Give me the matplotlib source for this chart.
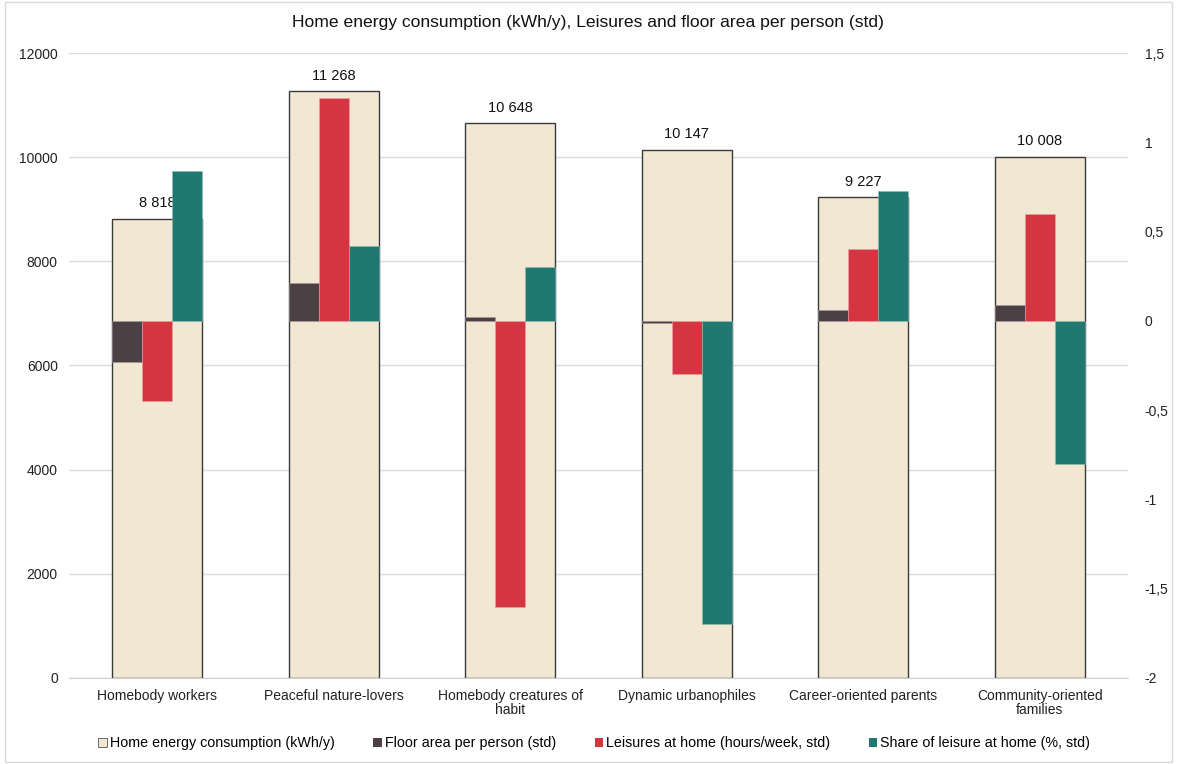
import matplotlib.pyplot as plt
from matplotlib.patches import Patch, Rectangle
from matplotlib.ticker import FuncFormatter

plt.rcParams['font.family'] = ['Liberation Sans', 'DejaVu Sans']

# Profiles and their values
categories = ["Homebody workers", "Peaceful nature-lovers", "Homebody creatures of\nhabit",
              "Dynamic urbanophiles", "Career-oriented parents", "Community-oriented\nfamilies"]
energy_kwh = [8818, 11268, 10648, 10147, 9227, 10008]
floor_area_std = [-0.23, 0.21, 0.02, -0.01, 0.06, 0.09]
leisure_hours_std = [-0.45, 1.25, -1.60, -0.30, 0.40, 0.60]
leisure_share_std = [0.84, 0.42, 0.30, -1.70, 0.73, -0.80]

c_energy = '#F2E7D2'
c_floor = '#4B4145'
c_leisure = '#D33641'
c_share = '#207870'

fig = plt.figure(figsize=(11.77, 7.64), dpi=100)
ax = fig.add_axes([0.0586, 0.1126, 0.8998, 0.818])
ax2 = ax.twinx()

x = range(len(categories))
sub_w = 0.17

# Energy consumption, left axis
ax.bar(x, energy_kwh, width=0.51, color=c_energy, edgecolor='#3a3a3a', linewidth=1.0, zorder=2)
for i, v in enumerate(energy_kwh):
    ax.text(i, v + 160, f"{v:,}".replace(",", " "), ha='center', va='bottom', fontsize=10.5, color='#111111')

# Standardized indicators, right axis
ax2.bar([i - sub_w for i in x], floor_area_std, width=sub_w, color=c_floor,
        edgecolor='#a09a98', linewidth=0.4, zorder=3)
ax2.bar(list(x), leisure_hours_std, width=sub_w, color=c_leisure,
        edgecolor='#ec9ea3', linewidth=0.4, zorder=3)
ax2.bar([i + sub_w for i in x], leisure_share_std, width=sub_w, color=c_share,
        edgecolor='#8fb9b3', linewidth=0.4, zorder=3)

ax.set_xlim(-0.5, len(categories) - 0.5)
ax.set_ylim(0, 12000)
ax.set_yticks(range(0, 12001, 2000))
ax2.set_ylim(-2, 1.5)
ax2.set_yticks([-2, -1.5, -1, -0.5, 0, 0.5, 1, 1.5])
ax2.yaxis.set_major_formatter(FuncFormatter(lambda v, p: f"{v:g}".replace(".", ",")))

ax.set_xticks(list(x))
ax.set_xticklabels(categories, fontsize=10, color='#222222', linespacing=1.0)
ax.tick_params(axis='x', length=0, pad=8)
ax.tick_params(axis='y', length=0, labelsize=10, labelcolor='#222222', pad=8)
ax2.tick_params(axis='y', length=0, labelsize=10, labelcolor='#222222', pad=12)
for lab in ax2.get_yticklabels():
    lab.set_horizontalalignment('left')

ax.grid(axis='y', color='#dcdcdc', linewidth=1.0)
ax.set_axisbelow(True)
for a in (ax, ax2):
    for s in a.spines.values():
        s.set_visible(False)
ax.spines['bottom'].set_visible(True)
ax.spines['bottom'].set_color('#d0d0d0')

fig.text(0.5, 0.97, "Home energy consumption (kWh/y), Leisures and floor area per person (std)",
         ha='center', va='center', fontsize=12.6, color='#111111')

handles = [Patch(facecolor=c_energy, edgecolor='#555555', linewidth=0.6),
           Patch(facecolor=c_floor), Patch(facecolor=c_leisure), Patch(facecolor=c_share)]
labels = ["Home energy consumption (kWh/y)", "Floor area per person (std)",
          "Leisures at home (hours/week, std)", "Share of leisure at home (%, std)"]
fig.legend(handles, labels, loc='center', bbox_to_anchor=(0.505, 0.027), ncol=4, frameon=False,
           fontsize=10.3, handlelength=0.6, handleheight=0.6, handletextpad=0.2, columnspacing=2.7)

# chart area border
fig.patches.append(Rectangle((0.004, 0.003), 0.992, 0.994, transform=fig.transFigure,
                             fill=False, edgecolor='#d9d9d9', linewidth=1.0))

fig.savefig('out.png', dpi=100)
